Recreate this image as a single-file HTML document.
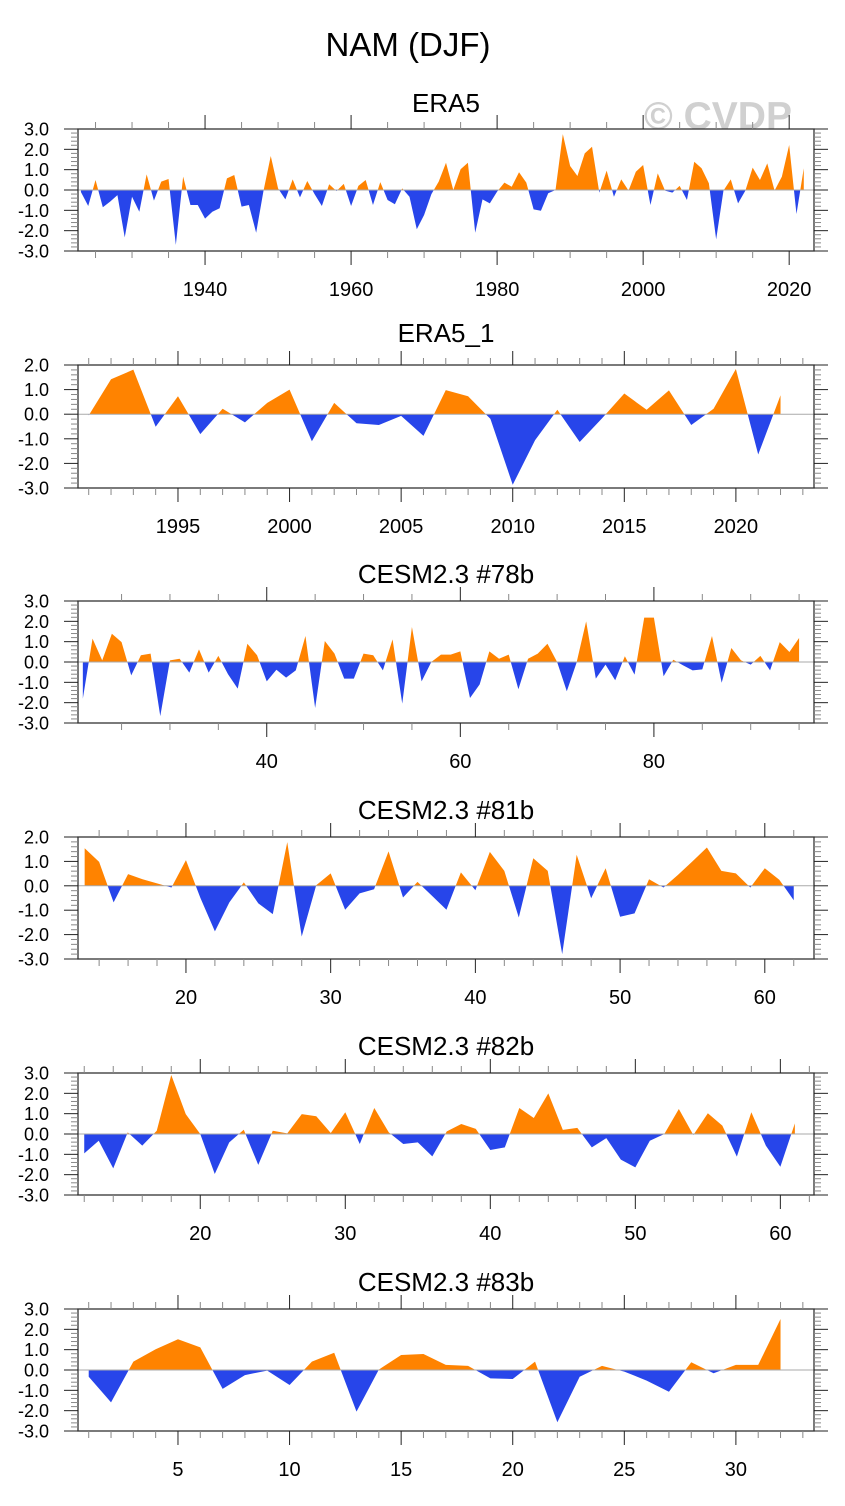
<!DOCTYPE html>
<html><head><meta charset="utf-8">
<style>
html,body{margin:0;padding:0;background:#fff;}
svg{display:block;font-family:"Liberation Sans",Arial,sans-serif;}
</style></head>
<body>
<svg id="chart" width="845" height="1506" viewBox="0 0 845 1506" xmlns="http://www.w3.org/2000/svg">
<text x="408" y="56" font-size="33" text-anchor="middle" fill="#000">NAM (DJF)</text>
<text x="718" y="129" font-size="39" font-weight="bold" text-anchor="middle" fill="#d0d0d0">© CVDP</text>
</svg>
<script>
// ---- data ----
const era5Start = 1923;
const era5Values = [-0.1,-0.79,0.49,-0.85,-0.57,-0.25,-2.33,-0.33,-1.07,0.77,-0.52,0.41,0.54,-2.7,0.66,-0.74,-0.74,-1.41,-1.07,-0.9,0.57,0.74,-0.82,-0.74,-2.1,-0.05,1.67,0.08,-0.46,0.52,-0.36,0.44,-0.2,-0.79,0.28,-0.05,0.3,-0.79,0.2,0.49,-0.74,0.39,-0.49,-0.7,0.08,-0.33,-1.93,-1.23,-0.2,0.41,1.34,0,1.02,1.34,-2.1,-0.46,-0.66,-0.08,0.36,0.16,0.87,0.36,-0.95,-1.02,-0.16,0,2.75,1.18,0.69,1.8,2.13,-0.13,0.95,-0.33,0.52,-0.03,0.9,1.23,-0.74,0.82,-0.03,-0.13,0.2,-0.49,1.39,1.07,0.33,-2.43,-0.03,0.52,-0.66,-0.03,1.1,0.49,1.31,-0.03,0.66,2.21,-1.18,1.07];
const era5_1Start = 1991;
const era5_1Values = [-0.05,1.42,1.81,-0.51,0.73,-0.81,0.22,-0.33,0.46,1.0,-1.1,0.46,-0.37,-0.44,-0.07,-0.88,0.98,0.73,-0.19,-2.87,-1.06,0.18,-1.13,-0.17,0.84,0.18,0.97,-0.44,0.22,1.84,-1.64,0.77];
const cesm78Start = 21;
const cesm78Values = [-1.8,1.15,0.08,1.39,0.98,-0.66,0.33,0.41,-2.66,0.08,0.16,-0.52,0.62,-0.52,0.3,-0.6,-1.31,0.9,0.33,-0.95,-0.38,-0.77,-0.41,1.28,-2.26,1.03,0.41,-0.82,-0.82,0.41,0.33,-0.41,1.11,-2.05,1.72,-0.95,0,0.36,0.36,0.52,-1.77,-1.1,0.52,0.16,0.36,-1.34,0.16,0.41,0.9,0,-1.44,-0.05,2.0,-0.82,-0.13,-0.9,0.28,-0.62,2.18,2.18,-0.7,0.11,-0.16,-0.41,-0.36,1.28,-1.02,0.69,0.08,-0.13,0.3,-0.41,0.98,0.49,1.18];
const cesm81Start = 13;
const cesm81Values = [1.54,0.98,-0.68,0.48,0.27,0.1,-0.07,1.05,-0.5,-1.87,-0.68,0.14,-0.72,-1.16,1.79,-2.08,0.02,0.51,-0.98,-0.31,-0.14,1.41,-0.48,0.16,-0.41,-0.98,0.55,-0.18,1.39,0.61,-1.3,1.13,0.61,-2.8,1.27,-0.51,0.72,-1.27,-1.13,0.27,-0.07,0.45,1.0,1.57,0.61,0.51,-0.07,0.72,0.25,-0.59];
const cesm82Start = 12;
const cesm82Values = [-0.95,-0.33,-1.69,0.08,-0.57,0.16,2.9,0.98,0,-1.97,-0.41,0.21,-1.52,0.16,0.03,0.98,0.87,0.05,1.07,-0.49,1.28,0.08,-0.49,-0.41,-1.1,0.13,0.49,0.25,-0.79,-0.66,1.28,0.79,2.0,0.2,0.3,-0.66,-0.2,-1.26,-1.64,-0.33,0,1.23,-0.05,1.02,0.41,-1.11,1.07,-0.57,-1.61,0.52];
const cesm83Start = 1;
const cesm83Values = [-0.33,-1.59,0.41,1.02,1.51,1.11,-0.93,-0.25,-0.03,-0.74,0.41,0.85,-2.05,0.02,0.74,0.79,0.25,0.2,-0.41,-0.44,0.41,-2.57,-0.33,0.2,-0.08,-0.52,-1.07,0.38,-0.16,0.25,0.25,2.51];
const yTicks3 = ["3.0","2.0","1.0","0.0","-1.0","-2.0","-3.0"];
const yTicks2 = ["2.0","1.0","0.0","-1.0","-2.0","-3.0"];
const era5XTicks = [1940,1960,1980,2000,2020];
const era5_1XTicks = [1995,2000,2005,2010,2015,2020];
const cesm78XTicks = [40,60,80];
const cesm81XTicks = [20,30,40,50,60];
const cesm82XTicks = [20,30,40,50,60];
const cesm83XTicks = [5,10,15,20,25,30];

// ---- layout ----
const NS = "http://www.w3.org/2000/svg";
const svg = document.getElementById('chart');
const panels = [
 {name:'era5', title:'ERA5', start:era5Start, vals:era5Values, xt:era5XTicks, yt:yTicks3, ymax:3, top:129, bot:251, x0:1922.6, x1:2023.4, minor:5, tOff:17},
 {name:'era5-1', title:'ERA5_1', start:era5_1Start, vals:era5_1Values, xt:era5_1XTicks, yt:yTicks2, ymax:2, top:365, bot:488, x0:1990.52, x1:2023.5, minor:1, tOff:23},
 {name:'cesm-78b', title:'CESM2.3 #78b', start:cesm78Start, vals:cesm78Values, xt:cesm78XTicks, yt:yTicks3, ymax:3, top:601, bot:723, x0:20.5, x1:96.54, minor:5, tOff:18},
 {name:'cesm-81b', title:'CESM2.3 #81b', start:cesm81Start, vals:cesm81Values, xt:cesm81XTicks, yt:yTicks2, ymax:2, top:837, bot:959, x0:12.54, x1:63.4, minor:2, tOff:18},
 {name:'cesm-82b', title:'CESM2.3 #82b', start:cesm82Start, vals:cesm82Values, xt:cesm82XTicks, yt:yTicks3, ymax:3, top:1073, bot:1195, x0:11.57, x1:62.32, minor:2, tOff:18},
 {name:'cesm-83b', title:'CESM2.3 #83b', start:cesm83Start, vals:cesm83Values, xt:cesm83XTicks, yt:yTicks3, ymax:3, top:1309, bot:1431, x0:0.52, x1:33.5, minor:1, tOff:18}
];
const L = 78, R = 814;
function mk(tag, attrs, parent){
  const e = document.createElementNS(NS, tag);
  for (const k in attrs) e.setAttribute(k, attrs[k]);
  (parent||svg).appendChild(e);
  return e;
}
panels.forEach((p, pi) => {
  const g = mk('g', {});
  
  
  const xs = v => L + (v - p.x0) / (p.x1 - p.x0) * (R - L);
  const ys = v => p.top + (p.ymax - v) / (p.ymax + 3) * (p.bot - p.top);
  const y0 = ys(0);
  const t = mk('text', {x:(L+R)/2, y:p.top-p.tOff, 'font-size':26, 'text-anchor':'middle', fill:'#000'}, g);
  t.textContent = p.title;
  
  
  const defs = mk('defs', {}, g);
  const ca = mk('clipPath', {id:'ca'+pi}, defs);
  mk('rect', {x:L, y:p.top, width:R-L, height:y0-p.top}, ca);
  const cb = mk('clipPath', {id:'cb'+pi}, defs);
  mk('rect', {x:L, y:y0, width:R-L, height:p.bot-y0}, cb);
  let pts = [];
  p.vals.forEach((v,i) => { pts.push(xs(p.start+i).toFixed(2)+','+ys(v).toFixed(2)); });
  const xFirst = xs(p.start), xLast = xs(p.start + p.vals.length - 1);
  const poly = xFirst.toFixed(2)+','+y0+' '+pts.join(' ')+' '+xLast.toFixed(2)+','+y0;
  const pa = mk('polygon', {points:poly, fill:'#ff8300', 'clip-path':'url(#ca'+pi+')'}, g);
  
  
  const pb = mk('polygon', {points:poly, fill:'#2745ea', 'clip-path':'url(#cb'+pi+')'}, g);
  
  
  const zl = mk('line', {x1:L, x2:R, y1:y0, y2:y0, stroke:'#aaa', 'stroke-width':1}, g);
  
  
  const fr = mk('rect', {x:L, y:p.top, width:R-L, height:p.bot-p.top, fill:'none', stroke:'#333', 'stroke-width':1.3}, g);
  
  
  const ax = mk('g', {stroke:'#333', 'stroke-width':1}, g);
  
  
  for (let k = -30; k <= p.ymax*10; k += 2) {
    const yy = ys(k/10);
    const maj = (k % 10 === 0);
    const len = maj ? 14 : 7;
    mk('line', {x1:L-len, x2:L, y1:yy, y2:yy, stroke: maj?'#222':'#888'}, ax);
    mk('line', {x1:R, x2:R+len, y1:yy, y2:yy, stroke: maj?'#222':'#888'}, ax);
  }
  p.yt.forEach(lbl => {
    const tx = mk('text', {x:49, y:ys(parseFloat(lbl))+6.5, 'font-size':18, 'text-anchor':'end', fill:'#000'}, g);
    tx.textContent = lbl;
    
    
  });
  const majStep = p.xt.length > 1 ? p.xt[1]-p.xt[0] : 20;
  const startTick = Math.ceil(p.x0 / p.minor) * p.minor;
  for (let v = startTick; v <= p.x1; v += p.minor) {
    const xx = xs(v);
    const maj = (Math.round(v) % majStep === 0);
    const len = maj ? 14 : 7;
    mk('line', {x1:xx, x2:xx, y1:p.bot, y2:p.bot+len, stroke: maj?'#222':'#888'}, ax);
    mk('line', {x1:xx, x2:xx, y1:p.top-len, y2:p.top, stroke: maj?'#222':'#888'}, ax);
  }
  p.xt.forEach(v => {
    const tx = mk('text', {x:xs(v), y:p.bot+45, 'font-size':20, 'text-anchor':'middle', fill:'#000'}, g);
    tx.textContent = String(v);
    
    
  });
});
</script>
</body></html>
